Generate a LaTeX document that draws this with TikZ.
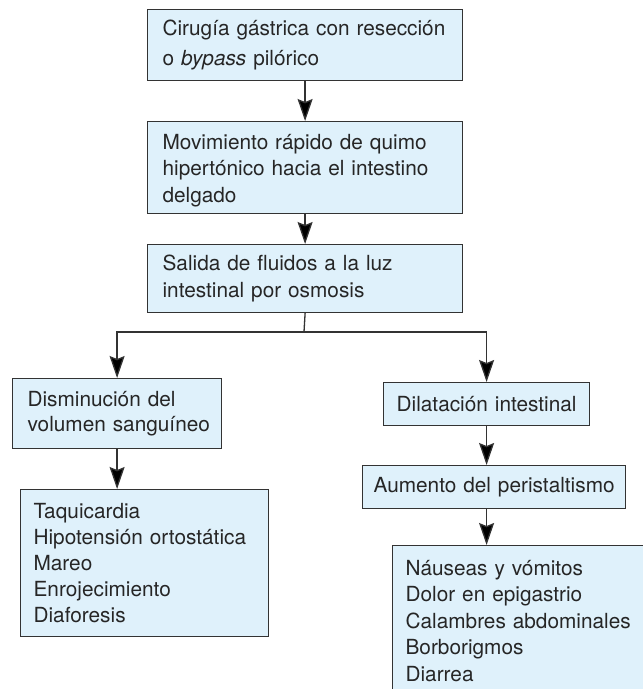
\documentclass[tikz,border=0pt]{standalone}
\usepackage{fontspec}
\setmainfont{TeX Gyre Heros}
\usetikzlibrary{arrows.meta}
\definecolor{boxfill}{HTML}{DFF1FB}
\definecolor{boxline}{HTML}{333333}
\definecolor{txt}{HTML}{262626}
\hyphenpenalty=10000
\exhyphenpenalty=10000
\begin{document}
\begin{tikzpicture}[x=1pt,y=-1pt,
  box/.style={draw=boxline, fill=boxfill, line width=1.2pt, anchor=north west,
    align=left, text=txt, inner ysep=0pt,
    font=\fontsize{20.8}{26.5}\selectfont},
  conn/.style={draw=boxline, line width=1.3pt},
  arr/.style={conn, -{Stealth[length=22pt,width=15pt,inset=3pt,fill=black]}}]
\useasboundingbox (0,0) rectangle (643,689);
\node[box, inner xsep=15pt, text width=285pt, minimum width=315pt, minimum height=71pt,
  font=\fontsize{20.8}{29.5}\selectfont] (b1) at (147,9)
  {Cirugía gástrica con resección\\o \textit{bypass} pilórico};
\node[box, inner xsep=15pt, text width=285pt, minimum width=315pt, minimum height=92pt] (b2) at (147,121)
  {\rule{0pt}{21pt}Movimiento rápido de quimo\\hipertónico hacia el intestino\\delgado};
\node[box, inner xsep=15pt, text width=285pt, minimum width=315pt, minimum height=68pt] (b3) at (147,244)
  {Salida de fluidos a la luz\\intestinal por osmosis};
\node[box, inner xsep=15pt, text width=179pt, minimum width=209pt, minimum height=70pt,
  font=\fontsize{20.8}{25}\selectfont] (b4) at (12,378)
  {Disminución del\\\mbox{volumen sanguíneo}};
\node[box, inner xsep=13pt, text width=222pt, minimum width=248pt, minimum height=147pt,
  font=\fontsize{20.8}{26.2}\selectfont] (b8) at (20,489)
  {Taquicardia\\Hipotensión ortostática\\Mareo\\Enrojecimiento\\Diaforesis};
\node[box, inner xsep=0pt, text width=206pt, align=center, minimum width=206pt, minimum height=43pt] (b5) at (383,382)
  {Dilatación intestinal};
\node[box, inner xsep=0pt, text width=263pt, align=center, minimum width=263pt, minimum height=43pt] (b6) at (362,465)
  {Aumento del peristaltismo};
\node[box, inner xsep=13pt, inner ysep=14.5pt, text width=226pt, minimum width=252pt] (b7) at (392,545)
  {Náuseas y vómitos\\Dolor en epigastrio\\Calambres abdominales\\Borborigmos\\Diarrea};
\coordinate (split) at (304,332);
\draw[arr] (b1.south) -- (b2.north);
\draw[arr] (b2.south) -- (b3.north);
\draw[conn] (b3.south) -- (split);
\draw[arr] (split) -| (b4.north);
\draw[arr] (split) -| (b5.north);
\draw[arr] (b4.south) -- (b4.south |- b8.north);
\draw[arr] (b5.south) -- (b5.south |- b6.north);
\draw[arr] (b5.south |- b6.south) -- (b5.south |- b7.north);
\end{tikzpicture}
\end{document}
